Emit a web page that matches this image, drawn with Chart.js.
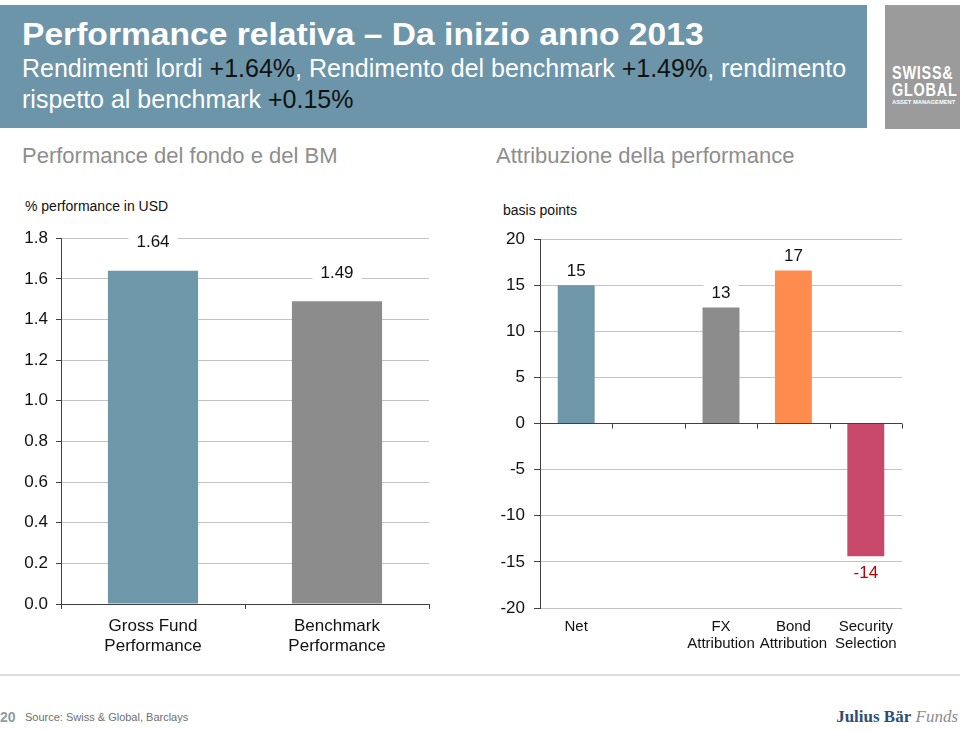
<!DOCTYPE html>
<html>
<head>
<meta charset="utf-8">
<script src="https://cdn.jsdelivr.net/npm/chart.js@4"></script>
<style>
  body { margin: 0; width: 960px; height: 731px; background: #fff; position: relative; overflow: hidden;
         font-family: "Liberation Sans", Arial, sans-serif; }
  .abs { position: absolute; white-space: nowrap; }
  .header { left: 0; top: 5px; width: 867px; height: 123px; background: #6D95A9; }
  .title { left: 22px; top: 16px; font-size: 32px; font-weight: bold; color: #fff;
           transform: scaleX(1.05); transform-origin: left; }
  .sub { left: 22px; font-size: 25px; color: #fff; }
  .sub b { font-weight: normal; color: #111; }
  .logo { left: 885px; top: 5px; width: 75px; height: 124px; background: #9B9B9B; }
  .logo div { position: absolute; left: 7px; color: #fff; font-weight: bold; transform-origin: left; }
  .section { top: 143px; font-size: 22px; color: #8E8E8E; }
  .unit { font-size: 14px; color: #111; }
  canvas { position: absolute; }
</style>
</head>
<body>
<div class="abs header"></div>
<div class="abs title">Performance relativa – Da inizio anno 2013</div>
<div class="abs sub" style="top:54px">Rendimenti lordi <b>+1.64%</b>, Rendimento del benchmark <b>+1.49%</b>, rendimento</div>
<div class="abs sub" style="top:85px">rispetto al benchmark <b>+0.15%</b></div>
<div class="abs logo">
  <div style="top:57px;font-size:19px;letter-spacing:1px;transform:scaleX(0.76)">SWISS&amp;</div>
  <div style="top:74px;font-size:19px;letter-spacing:1px;transform:scaleX(0.76)">GLOBAL</div>
  <div style="top:94px;font-size:6px;transform:scaleX(0.97)">ASSET MANAGEMENT</div>
</div>

<div class="abs section" style="left:22px">Performance del fondo e del BM</div>
<div class="abs section" style="left:496px">Attribuzione della performance</div>
<div class="abs unit" style="left:25px;top:198px">% performance in USD</div>
<div class="abs unit" style="left:503px;top:202px">basis points</div>

<canvas id="perfChart" width="480" height="440" style="left:0;top:220px"></canvas>
<canvas id="attrChart" width="480" height="440" style="left:480px;top:220px"></canvas>

<div class="abs" style="left:0;top:674px;width:960px;height:2px;background:#DDDDDD"></div>
<div class="abs" style="left:0;top:709px;font-size:14px;font-weight:bold;color:#8C9CA8">20</div>
<div class="abs" style="left:25px;top:711px;font-size:11px;color:#6F6F6F">Source: Swiss &amp; Global, Barclays</div>
<div class="abs" style="right:2px;top:707px;font-family:'Liberation Serif','DejaVu Serif',serif;font-size:17px;color:#2F4E74"><b>Julius Bär</b> <i style="color:#8C8C8C">Funds</i></div>

<script>
// left chart data
const perfLabels = [['Gross Fund', 'Performance'], ['Benchmark', 'Performance']];
const perfValues = [1.64, 1.49];
const perfColors = ['#6E97AA', '#8C8C8C'];
const perfTicks = [0, 0.2, 0.4, 0.6, 0.8, 1.0, 1.2, 1.4, 1.6, 1.8];

// right chart data (basis points)
const attrLabels = ['Net', '', ['FX', 'Attribution'], ['Bond', 'Attribution'], ['Security', 'Selection']];
const attrValues = [15, null, 12.6, 16.6, -14.4];
const attrColors = ['#6E97AA', '#8C8C8C', '#8C8C8C', '#FF8C4F', '#C8486C'];
const attrTicks = [-20, -15, -10, -5, 0, 5, 10, 15, 20];

const FONT = '"Liberation Sans", Arial, sans-serif';
const DARK = '#404040';
const GRID = '#C4C4C4';

// value labels with a white box behind them
function valueLabels(opts) {
  return {
    id: 'valueLabels',
    afterDatasetsDraw(chart) {
      const ctx = chart.ctx;
      const meta = chart.getDatasetMeta(0);
      const vals = chart.data.datasets[0].data;
      ctx.save();
      ctx.font = '17px ' + FONT;
      ctx.textAlign = 'center';
      ctx.textBaseline = 'middle';
      meta.data.forEach((bar, i) => {
        const v = vals[i];
        if (v === null) return;
        const txt = opts.format(v);
        const y = v >= 0 ? bar.y - opts.up : bar.y + opts.down;
        const w = ctx.measureText(txt).width + 16;
        ctx.fillStyle = '#fff';
        ctx.fillRect(bar.x - w / 2, y - 10, w, 20);
        ctx.fillStyle = v < 0 ? '#C00000' : '#111';
        ctx.fillText(txt, bar.x, y);
      });
      ctx.restore();
    }
  };
}

// little tick marks on the zero line between categories
const zeroTicks = {
  id: 'zeroTicks',
  afterDatasetsDraw(chart) {
    const ctx = chart.ctx;
    const xs = chart.scales.x;
    const y0 = chart.scales.y.getPixelForValue(0);
    const n = chart.data.labels.length;
    ctx.save();
    ctx.strokeStyle = DARK;
    ctx.lineWidth = 1;
    for (let i = 0; i < n; i++) {
      const x = i < n - 1 ? (xs.getPixelForValue(i) + xs.getPixelForValue(i + 1)) / 2 : chart.chartArea.right;
      ctx.beginPath();
      ctx.moveTo(Math.round(x) + 0.5, y0);
      ctx.lineTo(Math.round(x) + 0.5, y0 + 5);
      ctx.stroke();
    }
    ctx.restore();
  }
};

new Chart(document.getElementById('perfChart'), {
  type: 'bar',
  data: {
    labels: perfLabels,
    datasets: [{ data: perfValues, backgroundColor: perfColors, barPercentage: 0.49, categoryPercentage: 1 }]
  },
  options: {
    responsive: false,
    animation: false,
    layout: { padding: { top: 16, right: 51, left: 0, bottom: 0 } },
    plugins: { legend: { display: false }, tooltip: { enabled: false } },
    scales: {
      x: {
        afterFit(s) { s.height = 56; },
        grid: { drawOnChartArea: false, color: DARK, tickLength: 5 },
        border: { color: DARK },
        ticks: { color: '#111', font: { family: FONT, size: 17 }, padding: 7, maxRotation: 0 }
      },
      y: {
        min: 0, max: 1.8,
        afterFit(s) { s.width = 61; },
        afterBuildTicks(s) { s.ticks = perfTicks.map(v => ({ value: v })); },
        grid: { color: GRID, tickColor: DARK, tickLength: 5 },
        border: { color: DARK },
        ticks: { color: '#111', font: { family: FONT, size: 17 }, padding: 8, callback: v => v.toFixed(1) }
      }
    }
  },
  plugins: [valueLabels({ up: 28, down: 17, format: v => v.toFixed(2) })]
});

new Chart(document.getElementById('attrChart'), {
  type: 'bar',
  data: {
    labels: attrLabels,
    datasets: [{ data: attrValues, backgroundColor: attrColors, barPercentage: 0.51, categoryPercentage: 1 }]
  },
  options: {
    responsive: false,
    animation: false,
    layout: { padding: { top: 16, right: 58, left: 0, bottom: 0 } },
    plugins: { legend: { display: false }, tooltip: { enabled: false } },
    scales: {
      x: {
        afterFit(s) { s.height = 52; },
        grid: { display: false },
        border: { display: false },
        ticks: { color: '#111', font: { family: FONT, size: 15, lineHeight: 1.15 }, padding: 2, maxRotation: 0 }
      },
      y: {
        min: -20, max: 20,
        afterFit(s) { s.width = 60; },
        afterBuildTicks(s) { s.ticks = attrTicks.map(v => ({ value: v })); },
        grid: { color: c => (c.tick && c.tick.value === 0 ? DARK : GRID), tickColor: DARK, tickLength: 6 },
        border: { color: DARK },
        ticks: { color: '#111', font: { family: FONT, size: 17 }, padding: 9 }
      }
    }
  },
  plugins: [valueLabels({ up: 14, down: 17, format: v => String(Math.round(v)) }), zeroTicks]
});
</script>
</body>
</html>
